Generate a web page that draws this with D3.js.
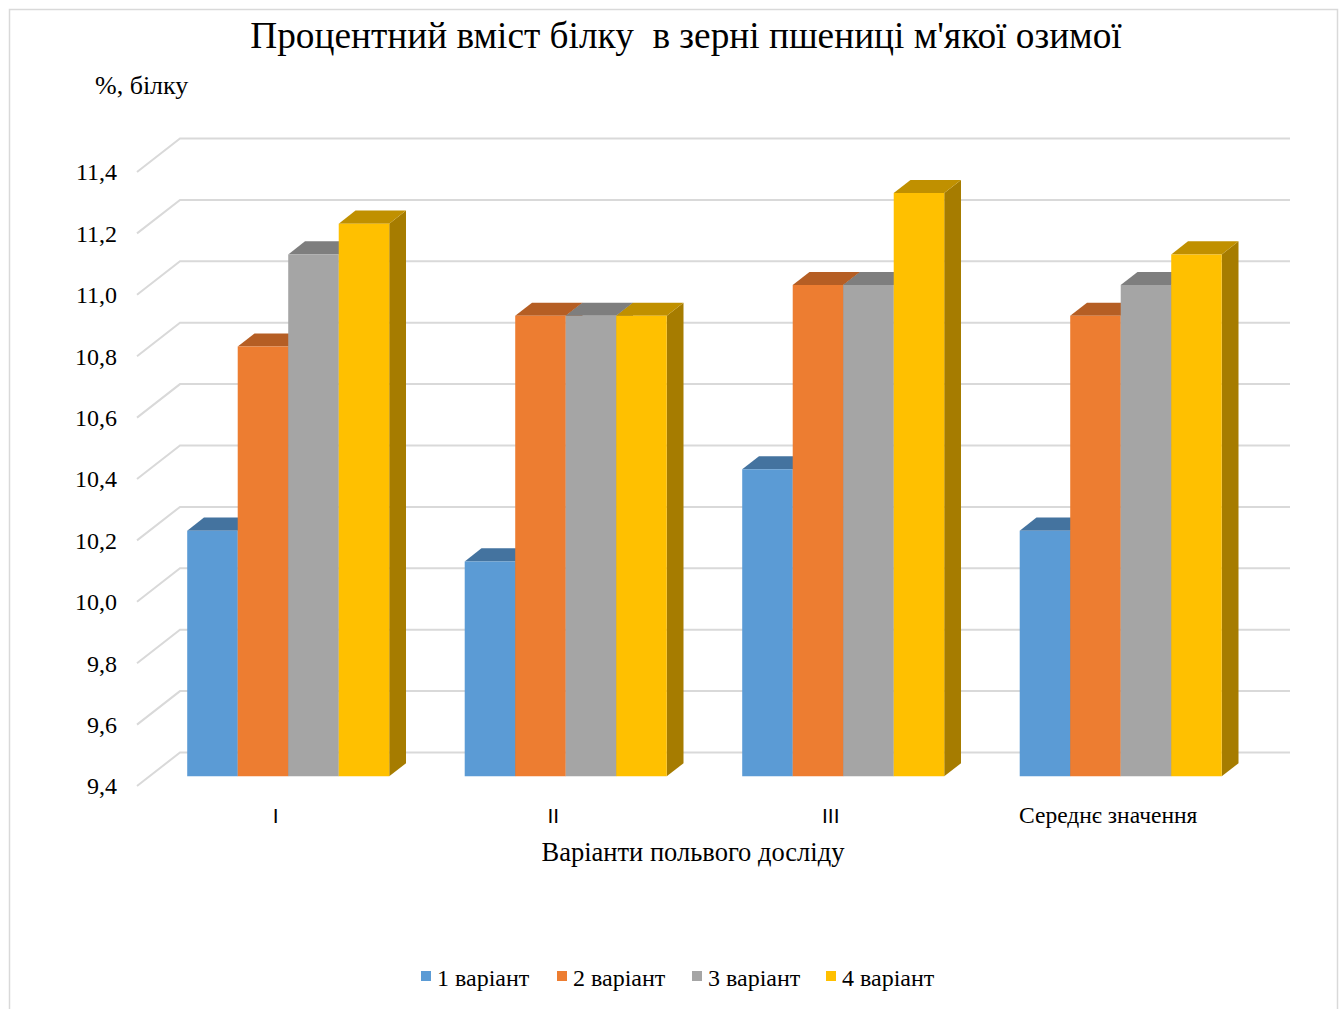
<!DOCTYPE html>
<html>
<head>
<meta charset="utf-8">
<script src="https://cdn.jsdelivr.net/npm/d3@7"></script>
<style>
  html, body { margin: 0; padding: 0; background: #fff; }
  svg { display: block; font-family: "Liberation Serif", "Times New Roman", serif; }
</style>
</head>
<body>
<svg id="chart" width="1341" height="1009"></svg>
<script>
// Protein content of winter wheat grain by trial variant
const categories = ["I", "II", "III", "Середнє значення"];
const seriesNames = ["1 варіант", "2 варіант", "3 варіант", "4 варіант"];
const variant1 = [10.2, 10.1, 10.4, 10.2];
const variant2 = [10.8, 10.9, 11.0, 10.9];
const variant3 = [11.1, 10.9, 11.0, 11.0];
const variant4 = [11.2, 10.9, 11.3, 11.1];
const seriesValues = [variant1, variant2, variant3, variant4];
const yTicks = [9.4, 9.6, 9.8, 10.0, 10.2, 10.4, 10.6, 10.8, 11.0, 11.2, 11.4];

const frontColors = ["#5B9BD5", "#ED7D31", "#A5A5A5", "#FFC000"];
const topColors   = ["#44739F", "#B55E24", "#7E7E7E", "#C09000"];
const sideColors  = ["#3A6690", "#A45420", "#717171", "#A67C00"];

const svg = d3.select("#chart");
const W = 1341, H = 1009;

// chart frame
svg.append("rect")
  .attr("x", 9.5).attr("y", 9.5)
  .attr("width", 1328).attr("height", H + 10)
  .attr("fill", "#fff").attr("stroke", "#D9D9D9").attr("stroke-width", 1.5);

// pseudo-3D geometry: front plane scales plus a depth vector toward the back wall
const depth = { dx: 43, dy: -33.5 };
const barFront = 0.29, barBack = 0.68;

const x = d3.scaleBand().domain(categories)
  .range([137, 1247]).paddingInner(0.272).paddingOuter(0.136);
const y = d3.scaleLinear().domain([9.4, 11.4]).range([786, 172]);
const xs = d3.scaleBand().domain(d3.range(seriesNames.length))
  .range([0, x.bandwidth()]);

const proj = (px, py, t) => [px + t * depth.dx, py + t * depth.dy];

// gridlines: diagonal on the side wall + horizontal on the back wall
const xLeft = x.range()[0], xRight = x.range()[1];
const grid = svg.append("g").attr("stroke", "#D9D9D9").attr("stroke-width", 2).attr("fill", "none");
yTicks.forEach(v => {
  const a = [xLeft, y(v)];
  const b = proj(xLeft, y(v), 1);
  const c = proj(xRight, y(v), 1);
  grid.append("path").attr("d", d3.line()([a, b, c]));
});

// y tick labels
svg.append("g").selectAll("text").data(yTicks).join("text")
  .attr("x", 117).attr("y", d => y(d))
  .attr("dy", "0.35em")
  .attr("text-anchor", "end")
  .attr("font-size", 24).attr("fill", "#000")
  .text(d => d3.format(".1f")(d).replace(".", ","));

// bars, drawn left to right so each bar covers its neighbour's side face
const bars = svg.append("g");
categories.forEach((cat, ci) => {
  seriesValues.forEach((vals, si) => {
    const v = vals[ci];
    const x0 = x(cat) + xs(si), x1 = x0 + xs.bandwidth();
    const yTop = y(v), yBase = y(9.4);
    const fTL = proj(x0, yTop, barFront), fTR = proj(x1, yTop, barFront);
    const fBR = proj(x1, yBase, barFront), fBL = proj(x0, yBase, barFront);
    const bTL = proj(x0, yTop, barBack), bTR = proj(x1, yTop, barBack);
    const bBR = proj(x1, yBase, barBack);
    const poly = pts => "M" + pts.map(p => p.join(",")).join("L") + "Z";
    bars.append("path").attr("d", poly([fTR, bTR, bBR, fBR])).attr("fill", sideColors[si]);
    bars.append("path").attr("d", poly([fTL, bTL, bTR, fTR])).attr("fill", topColors[si]);
    bars.append("path").attr("d", poly([fTL, fTR, fBR, fBL])).attr("fill", frontColors[si]);
  });
});

// category labels (Roman numerals are set in a plain sans face)
svg.append("g").selectAll("text").data(categories).join("text")
  .attr("x", d => x(d) + x.bandwidth() / 2)
  .attr("y", 823)
  .attr("text-anchor", "middle")
  .attr("font-family", d => /^[IVX]+$/.test(d) ? "'Liberation Sans', Arial, sans-serif" : null)
  .attr("font-size", d => /^[IVX]+$/.test(d) ? 21 : 23.5)
  .attr("fill", "#000")
  .text(d => d);

// titles
svg.append("text").attr("x", 686).attr("y", 48)
  .attr("text-anchor", "middle").attr("font-size", 37.3).attr("fill", "#000")
  .style("white-space", "pre")
  .text("Процентний вміст білку  в зерні пшениці м'якої озимої");

svg.append("text").attr("x", 95).attr("y", 94)
  .attr("font-size", 26).attr("fill", "#000")
  .text("%, білку");

svg.append("text").attr("x", 693).attr("y", 861)
  .attr("text-anchor", "middle").attr("font-size", 26.5).attr("fill", "#000")
  .text("Варіанти польвого досліду");

// legend
const legendX = [421, 557, 692, 826];
const legend = svg.append("g").selectAll("g").data(seriesNames).join("g")
  .attr("transform", (d, i) => `translate(${legendX[i]},0)`);
legend.append("rect").attr("x", 0).attr("y", 971).attr("width", 10).attr("height", 10)
  .attr("fill", (d, i) => frontColors[i]);
legend.append("text").attr("x", 16).attr("y", 986)
  .attr("font-size", 24).attr("fill", "#000").text(d => d);
</script>
</body>
</html>
